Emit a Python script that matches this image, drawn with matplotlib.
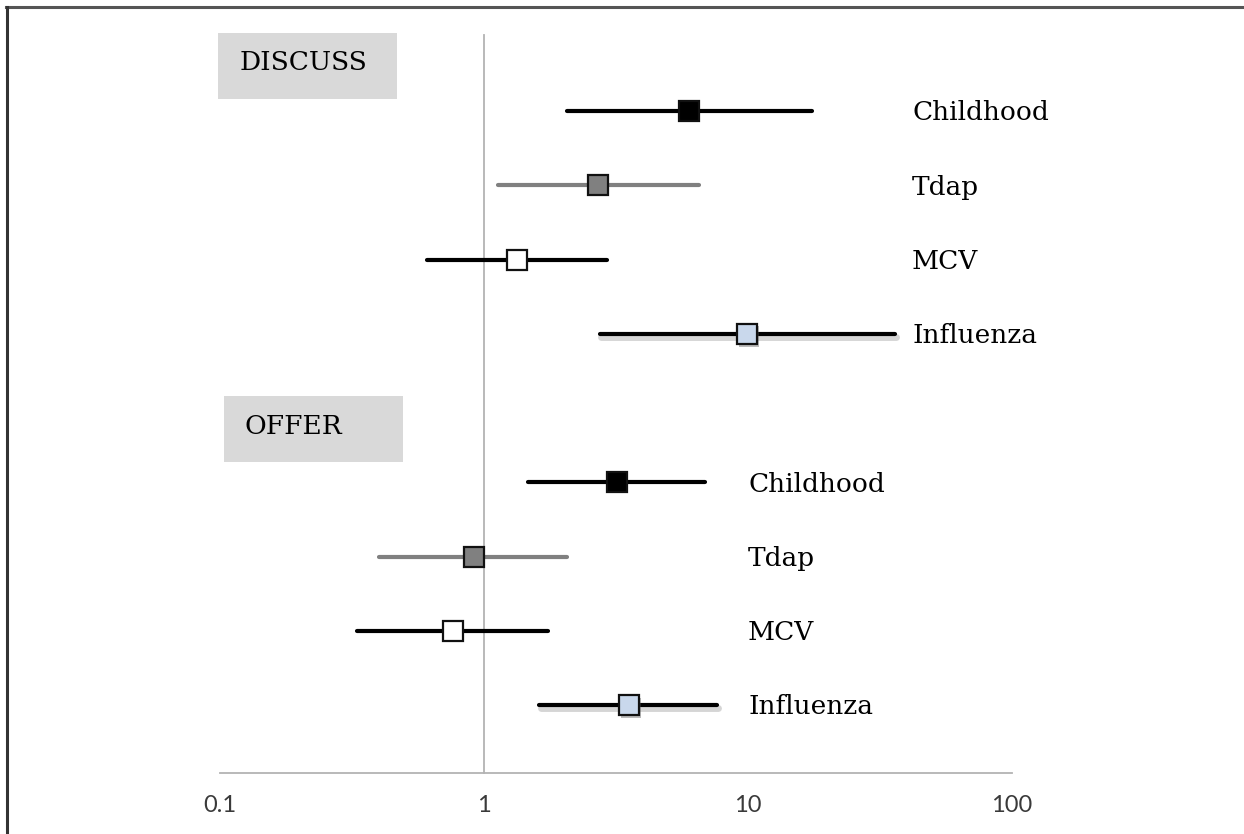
import matplotlib
matplotlib.use("Agg")
import matplotlib.pyplot as plt
import matplotlib.patheffects as pe
from matplotlib.patches import Rectangle
from matplotlib.lines import Line2D

# ---- data ----
vaccines = ["Childhood", "Tdap", "MCV", "Influenza"]
discuss_or = [6.0, 2.7, 1.33, 9.9]
discuss_lo = [2.06, 1.13, 0.61, 2.75]
discuss_hi = [17.5, 6.5, 2.92, 36.0]
offer_or = [3.2, 0.92, 0.76, 3.55]
offer_lo = [1.47, 0.40, 0.33, 1.62]
offer_hi = [6.9, 2.06, 1.75, 7.6]
group_labels = ["DISCUSS", "OFFER"]
tick_values = [0.1, 1, 10, 100]
tick_labels = ["0.1", "1", "10", "100"]

# styles per vaccine
face_colors = ["#000000", "#808080", "#ffffff", "#c9d8ec"]
line_colors = ["#000000", "#808080", "#000000", "#000000"]
shadow = [False, False, False, True]

W, H = 1244, 834
fig = plt.figure(figsize=(W / 100, H / 100), dpi=100)
fig.patch.set_facecolor("white")

# axes spans x pixels 220..1012 (0.1..100 on log scale), full height
ax = fig.add_axes([220 / W, 0, (1012 - 220) / W, 1])
ax.set_xscale("log")
ax.set_xlim(0.1, 100)
row0_px, row_step = 111, 74.25
ax.set_ylim((H - row0_px) / row_step, -row0_px / row_step)
ax.axis("off")

def px_to_row(py):
    return (py - row0_px) / row_step

# reference line at 1 and bottom axis
ax.plot([1, 1], [px_to_row(35), px_to_row(773)], color="#b3b3b3", lw=1.3, clip_on=False, zorder=1)
ax.plot([0.1, 100], [px_to_row(773), px_to_row(773)], color="#b3b3b3", lw=1.3, clip_on=False, zorder=1)
for v, lab in zip(tick_values, tick_labels):
    ax.text(v, px_to_row(806), lab, ha="center", va="center", fontsize=17,
            color="#3a3a3a", family=["Lato", "DejaVu Sans"])

def draw_group(ors, los, his, rows, label_x_px):
    for i, (o, lo, hi, r) in enumerate(zip(ors, los, his, rows)):
        effects_line = []
        effects_mark = []
        if shadow[i]:
            effects_line = [pe.SimpleLineShadow(offset=(1, -2.5), shadow_color="#777777", alpha=0.3, linewidth=5),
                            pe.Normal()]
            effects_mark = [pe.SimplePatchShadow(offset=(1.5, -2), shadow_rgbFace="#555555", alpha=0.4),
                            pe.Normal()]
        ax.plot([lo, hi], [r, r], color=line_colors[i], lw=3.0, solid_capstyle="round",
                zorder=2, path_effects=effects_line, clip_on=False)
        ax.plot([o], [r], marker="s", ms=14.5, mfc=face_colors[i], mec="#111111", mew=1.6,
                zorder=3, path_effects=effects_mark, clip_on=False)
        fig.text(label_x_px / W, 1 - (row0_px + r * row_step + 2) / H, vaccines[i],
                 ha="left", va="center", fontsize=19, color="black", family="DejaVu Serif")

draw_group(discuss_or, discuss_lo, discuss_hi, [0, 1, 2, 3], 912)
draw_group(offer_or, offer_lo, offer_hi, [5, 6, 7, 8], 748)

# group label boxes
boxes = [(218, 33, 179, 66, 240), (224, 396, 179, 66, 245)]
for (bx, by, bw, bh, tx), lab in zip(boxes, group_labels):
    fig.patches.append(Rectangle((bx / W, 1 - (by + bh) / H), bw / W, bh / H,
                                 transform=fig.transFigure, facecolor="#d9d9d9",
                                 edgecolor="none", zorder=0))
    fig.text(tx / W, 1 - (by + bh / 2 - 3) / H, lab, ha="left", va="center",
             fontsize=19, color="black", family="DejaVu Serif")

# frame lines (top and left)
fig.add_artist(Line2D([6 / W, 1], [1 - 7 / H, 1 - 7 / H], transform=fig.transFigure,
                      color="#555555", lw=2.2))
fig.add_artist(Line2D([6.5 / W, 6.5 / W], [0, 1 - 7 / H], transform=fig.transFigure,
                      color="#333333", lw=2.2))

fig.savefig("out.png", dpi=100, facecolor="white")
